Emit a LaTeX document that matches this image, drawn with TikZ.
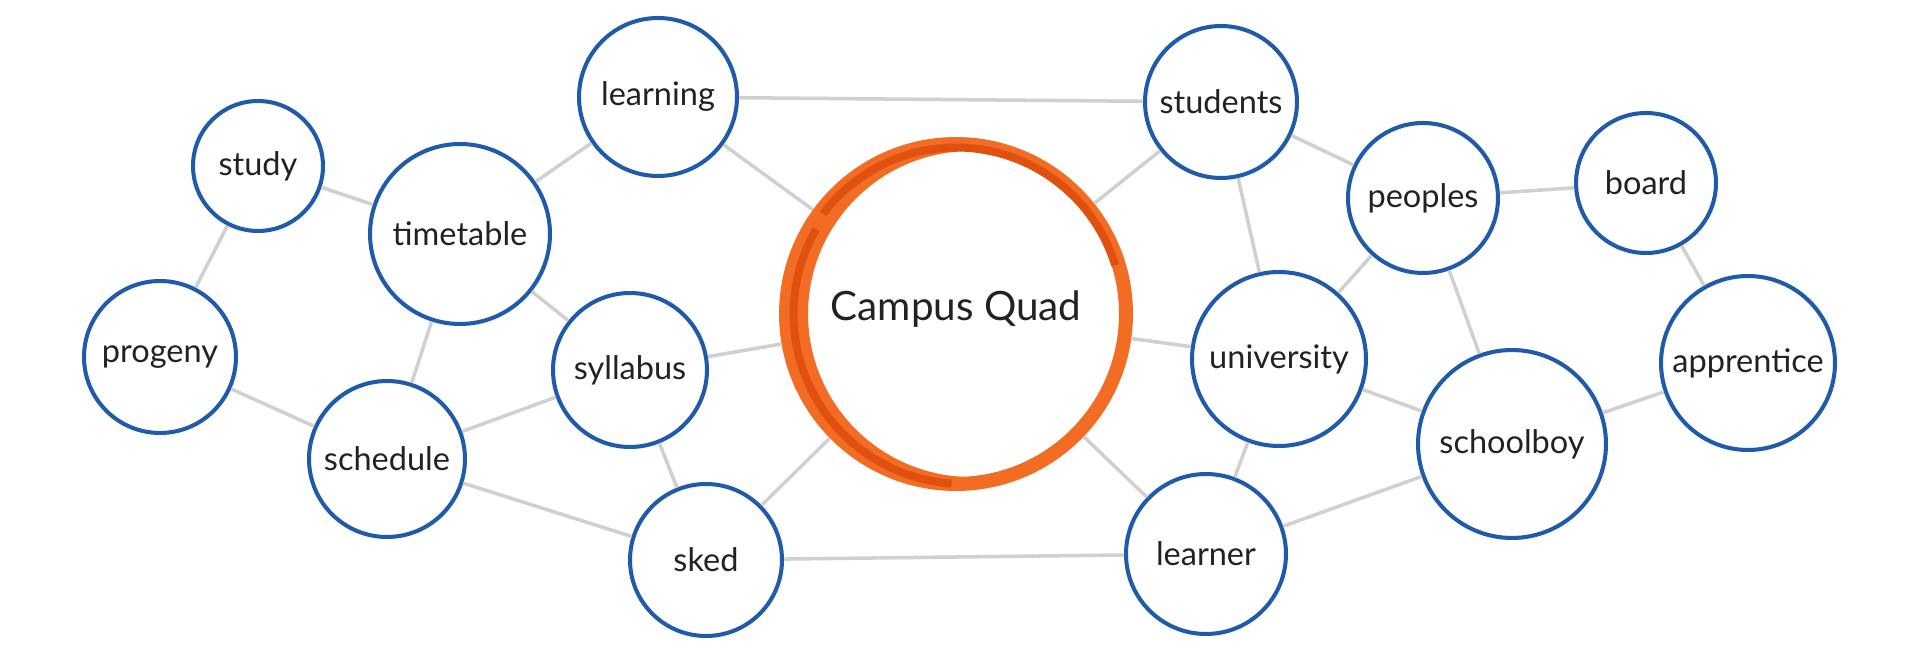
\documentclass[tikz,border=0pt]{standalone}
\usepackage{fontspec}
\setmainfont{Lato}
\definecolor{nodeblue}{HTML}{1F5BA8}
\definecolor{edgegray}{HTML}{D0D0D0}
\definecolor{ringorange}{HTML}{F36C24}
\definecolor{ringdark}{HTML}{E0500F}
\definecolor{inkc}{HTML}{222222}
\begin{document}
\begin{tikzpicture}[x=0.02cm,y=-0.02cm,
  bubble/.style={circle, draw=nodeblue, line width=2.3pt, fill=white, inner sep=0pt, text=inkc, font=\fontsize{18.5}{20}\selectfont},
  hub/.style={circle, draw=none, inner sep=0pt, text=inkc, font=\fontsize{23}{26}\selectfont},
  ring/.style={draw=ringorange, line width=0.28cm},
  ringover/.style={draw=ringdark, line width=0.16cm},
  link/.style={draw=edgegray, line width=2pt}]
\useasboundingbox (0,0) rectangle (1920,661);
% hub
\node[hub, minimum size=7.08cm] (Q) at (956,314) {};
\coordinate (Q2) at ([xshift=0.3cm]Q.center);
\coordinate (Q3) at ([xshift=0.15cm]Q.center);
\draw[ring] (Q.center) circle[radius=3.4cm];
\draw[ring] ([shift={(95:3.4cm)}]Q2) arc[start angle=95, end angle=268, radius=3.4cm];
\draw[ringover] ([shift={(150:3.4cm)}]Q3) arc[start angle=150, end angle=266, radius=3.4cm];
\draw[ringover] ([shift={(143:3.33cm)}]Q.center) arc[start angle=143, end angle=17, radius=3.33cm];
\node[text=inkc, font=\fontsize{23}{26}\selectfont] (Qlabel) at ([yshift=0.1cm]Q.center) {Campus Quad};
% nodes
\node[bubble, minimum size=3.16cm] (learning) at (658,97) {learning};
\node[bubble, minimum size=2.60cm] (study) at (258,166) {study};
\node[bubble, minimum size=3.60cm] (timetable) at (460,234) {timetable};
\node[bubble, minimum size=3.04cm] (progeny) at (160,357) {progeny};
\node[bubble, minimum size=3.08cm] (syllabus) at (630,370) {syllabus};
\node[bubble, minimum size=3.12cm] (schedule) at (387,459) {schedule};
\node[bubble, minimum size=3.04cm] (sked) at (706,560) {sked};
\node[bubble, minimum size=3.04cm] (students) at (1221,102) {students};
\node[bubble, minimum size=3.00cm] (peoples) at (1423,198) {peoples};
\node[bubble, minimum size=2.80cm] (board) at (1646,183) {board};
\node[bubble, minimum size=3.48cm] (university) at (1279,359) {university};
\node[bubble, minimum size=3.48cm] (apprentice) at (1748,363) {apprentice};
\node[bubble, minimum size=3.76cm] (schoolboy) at (1512,444) {schoolboy};
\node[bubble, minimum size=3.20cm] (learner) at (1206,554) {learner};
% connectors
\draw[link] (learning) -- (students);
\draw[link] (learning) -- (timetable);
\draw[link] (learning) -- (Q);
\draw[link] (study) -- (timetable);
\draw[link] (study) -- (progeny);
\draw[link] (progeny) -- (schedule);
\draw[link] (timetable) -- (syllabus);
\draw[link] (timetable) -- (schedule);
\draw[link] (syllabus) -- (schedule);
\draw[link] (syllabus) -- (Q);
\draw[link] (syllabus) -- (sked);
\draw[link] (schedule) -- (sked);
\draw[link] (sked) -- (Q);
\draw[link] (sked) -- (learner);
\draw[link] (students) -- (Q);
\draw[link] (students) -- (peoples);
\draw[link] (students) -- (university);
\draw[link] (peoples) -- (board);
\draw[link] (peoples) -- (university);
\draw[link] (peoples) -- (schoolboy);
\draw[link] (board) -- (apprentice);
\draw[link] (apprentice) -- (schoolboy);
\draw[link] (university) -- (Q);
\draw[link] (university) -- (schoolboy);
\draw[link] (university) -- (learner);
\draw[link] (learner) -- (Q);
\draw[link] (learner) -- (schoolboy);
\end{tikzpicture}
\end{document}
